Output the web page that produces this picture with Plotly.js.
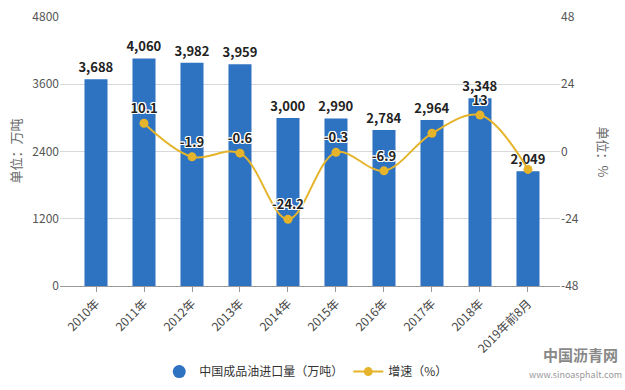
<!DOCTYPE html>
<html><head><meta charset="utf-8">
<script src="https://cdn.plot.ly/plotly-3.0.1.min.js"></script>
<style>body{margin:0;background:#fff}#c{width:625px;height:390px}</style>
</head><body><div id="c"></div>
<script>
const categories = ['2010年','2011年','2012年','2013年','2014年','2015年','2016年','2017年','2018年','2019年前8月'];
const importVolume = [3688, 4060, 3982, 3959, 3000, 2990, 2784, 2964, 3348, 2049];
const growthRate = [null, 10.1, -1.9, -0.6, -24.2, -0.3, -6.9, 6.5, 13, -6.4];
const growthLabels = ['', '10.1', '-1.9', '-0.6', '-24.2', '-0.3', '-6.9', '', '13', ''];
const leftTicks = [0, 1200, 2400, 3600, 4800];
const rightTicks = [-48, -24, 0, 24, 48];

const font = 'Noto Sans CJK SC, Noto Sans, sans-serif';
const x = categories.map((c, i) => i);
const outline = '1px 0 0 #fff, -1px 0 0 #fff, 0 1px 0 #fff, 0 -1px 0 #fff, 1px 1px 0 #fff, -1px -1px 0 #fff, 1px -1px 0 #fff, -1px 1px 0 #fff';

const traces = [
  {
    type: 'bar', x: x, y: importVolume, name: '中国成品油进口量（万吨）', showlegend: false,
    marker: {color: '#2e72c2'}, width: 0.48,
    text: importVolume.map(v => v.toLocaleString('en-US')), textposition: 'outside',
    constraintext: 'none',
    textfont: {family: font, size: 13, color: '#222', weight: 'bold'},
    cliponaxis: false, hoverinfo: 'none'
  },
  {
    type: 'scatter', mode: 'markers', x: [null], y: [null], name: '中国成品油进口量（万吨）',
    marker: {color: '#2e72c2', size: 13, symbol: 'circle'}, hoverinfo: 'none'
  },
  {
    type: 'scatter', mode: 'lines+markers+text', x: x, y: growthRate, yaxis: 'y2',
    name: '增速（%）',
    line: {color: '#e5b42b', width: 2, shape: 'spline', smoothing: 1},
    marker: {color: '#e5b42b', size: 9},
    text: growthLabels, textposition: 'top center',
    textfont: {family: font, size: 13, color: '#222', weight: 'bold', shadow: outline},
    cliponaxis: false, connectgaps: false, hoverinfo: 'none'
  }
];

const layout = {
  width: 625, height: 390,
  margin: {l: 60, r: 65, t: 17, b: 104},
  paper_bgcolor: '#fff', plot_bgcolor: '#fff',
  font: {family: font, size: 12, color: '#555'},
  showlegend: true,
  legend: {orientation: 'h', x: 0.49, xanchor: 'center', xref: 'container',
    y: 0.01, yanchor: 'bottom', yref: 'container',
    font: {family: font, size: 12, color: '#333'}},
  xaxis: {
    range: [-0.75, 9.667], tickvals: x, ticktext: categories, tickangle: -45,
    showgrid: false, showline: true, linecolor: '#999', linewidth: 1,
    ticks: 'outside', ticklen: 5, tickcolor: '#999', automargin: false,
    tickfont: {family: font, size: 12, color: '#444'}, zeroline: false, fixedrange: true
  },
  yaxis: {
    range: [0, 4800], tickvals: leftTicks, ticktext: leftTicks.map(String),
    showgrid: true, gridcolor: '#d9d9d9', gridwidth: 1, zeroline: false, showline: false,
    tickfont: {family: font, size: 12, color: '#555'}, ticks: '', automargin: false
  },
  yaxis2: {
    range: [-48, 48], tickvals: rightTicks, ticktext: rightTicks.map(String),
    overlaying: 'y', side: 'right', showgrid: false, zeroline: false, showline: false,
    tickfont: {family: font, size: 12, color: '#555'}, ticks: '', automargin: false
  },
  annotations: [
    {text: '单位：万吨', xref: 'paper', yref: 'paper', x: -0.09, y: 0.5, xanchor: 'center', yanchor: 'middle',
     showarrow: false, textangle: -90, font: {family: font, size: 13, color: '#666'}},
    {text: '单位：%', xref: 'paper', yref: 'paper', x: 1.086, y: 0.5, xanchor: 'center', yanchor: 'middle',
     showarrow: false, textangle: 90, font: {family: font, size: 13, color: '#666'}},
    {text: '<b>中国沥青网</b>', xref: 'paper', yref: 'paper', x: 1.04, y: -0.255, xanchor: 'center', yanchor: 'middle',
     showarrow: false, font: {family: font, size: 15, color: '#888'}},
    {text: 'www.sinoasphalt.com', xref: 'paper', yref: 'paper', x: 1.03, y: -0.33, xanchor: 'center', yanchor: 'middle',
     showarrow: false, font: {family: font, size: 9, color: '#999'}}
  ]
};

Plotly.newPlot('c', traces, layout, {displayModeBar: false, staticPlot: true});
</script>
</body></html>
